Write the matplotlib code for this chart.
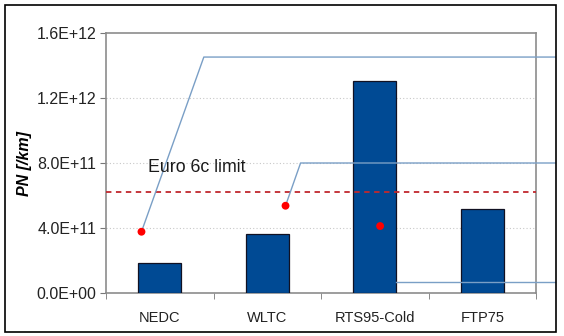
import matplotlib
matplotlib.use('Agg')
import matplotlib.pyplot as plt
import numpy as np
from matplotlib.patches import Rectangle
from matplotlib.ticker import FixedLocator, FuncFormatter

plt.rcParams['font.family'] = ['Liberation Sans', 'DejaVu Sans']

cycles = ['NEDC', 'WLTC', 'RTS95-Cold', 'FTP75']
pn_values = [1.85e11, 3.63e11, 1.305e12, 5.15e11]
# red markers and the callout lines that run off to the right
marker_x = [-0.17, 1.17, 2.05]
marker_values = [3.77e11, 5.37e11, 4.12e11]
callout_levels = [1.452e12, 8.0e11, 6.6e10]
euro6c_limit = 6.2e11
y_ticks = [0, 4e11, 8e11, 1.2e12, 1.6e12]

fig = plt.figure(figsize=(5.64, 3.36), dpi=100)
ax = fig.add_axes([106 / 564, 1 - 293 / 336, 430 / 564, 260 / 336])

x = np.arange(len(cycles))
ax.bar(x, pn_values, width=0.4, color='#004a94', edgecolor='#111122',
       linewidth=0.9, zorder=3)

ax.set_xlim(-0.5, 3.5)
ax.set_ylim(0, 1.6e12)
ax.yaxis.set_major_locator(FixedLocator(y_ticks))
ax.yaxis.set_major_formatter(FuncFormatter(
    lambda v, p: '0.0E+00' if v == 0 else '%.1E' % v))
ax.set_xticks(x)
ax.set_xticklabels(cycles)
ax.xaxis.set_minor_locator(FixedLocator([-0.5, 0.5, 1.5, 2.5, 3.5]))
ax.tick_params(axis='x', which='major', length=0, pad=13, labelsize=10.5,
               colors='#222222')
ax.tick_params(axis='x', which='minor', length=4, color='#777777')
ax.tick_params(axis='y', length=4, color='#777777', labelsize=11.5,
               labelcolor='#222222', pad=3)
for s in ax.spines.values():
    s.set_color('#8c8c8c')
    s.set_linewidth(1.2)

for v in y_ticks[1:-1]:
    ax.axhline(v, color='#c8c8c8', linestyle=(0, (1, 2)), linewidth=0.8,
               zorder=1)

ax.axhline(euro6c_limit, color='#c0282d', linestyle=(0, (3, 2.5)),
           linewidth=1.3, zorder=4)
ax.text(-0.11, 7.75e11, 'Euro 6c limit', fontsize=12.8, color='#1a1a1a',
        va='center', ha='left', zorder=5)

line_col = '#7a9fc6'
x_end = 3.68
# NEDC callout
ax.plot([marker_x[0], 0.41, x_end],
        [marker_values[0], callout_levels[0], callout_levels[0]],
        color=line_col, linewidth=1.0, clip_on=False, zorder=4)
# WLTC callout
ax.plot([marker_x[1], 1.31, x_end],
        [marker_values[1], callout_levels[1], callout_levels[1]],
        color=line_col, linewidth=1.0, clip_on=False, zorder=4)
# RTS95-Cold callout from the bar edge
ax.plot([2.2, x_end], [callout_levels[2], callout_levels[2]],
        color=line_col, linewidth=1.0, clip_on=False, zorder=4)

ax.scatter(marker_x, marker_values, s=32, color='#ff0000', zorder=6,
           edgecolors='none')

ax.set_ylabel('PN [/km]', fontsize=11.5, fontweight='bold', style='italic',
              labelpad=3)

fig.patches.append(Rectangle((5 / 564, 1 - 332 / 336), 551 / 564, 327 / 336,
                             transform=fig.transFigure, fill=False,
                             edgecolor='black', linewidth=1.2))

fig.savefig('out.png', dpi=100)
